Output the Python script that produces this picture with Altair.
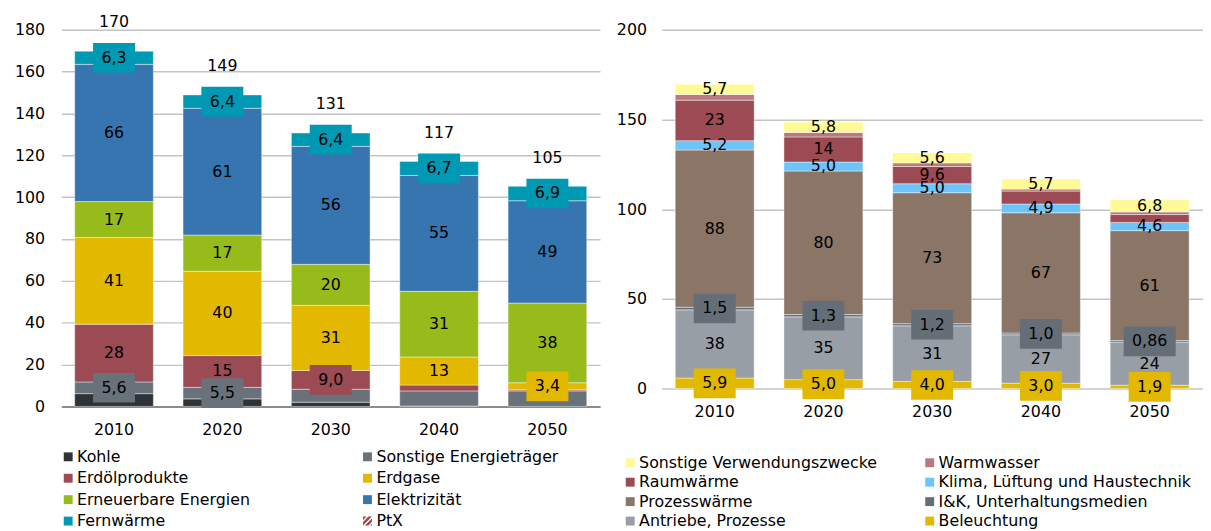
import altair as alt
import pandas as pd

FONT = "DejaVu Sans"
YEARS = ["2010", "2020", "2030", "2040", "2050"]

# ---------------- left panel: by energy carrier (bottom -> top) ----------------
LEFT_SERIES = ["Kohle", "Sonstige Energieträger", "Erdölprodukte", "Erdgase",
               "Erneuerbare Energien", "Elektrizität", "Fernwärme", "PtX"]
LEFT_COLORS = ["#2f3338", "#69717a", "#9c4a54", "#e3b800",
               "#98bb1c", "#3675b0", "#0099b4", "#9c4a54"]
KOHLE = [6.1, 3.6, 2.0, 0.2, 0.0]
SONSTIGE_ET = [5.6, 5.5, 6.2, 7.2, 7.4]
ERDOEL = [27.6, 15.2, 9.0, 2.8, 0.5]
ERDGAS = [41.4, 40.3, 31.1, 13.4, 3.4]
ERNEUERBAR = [17.2, 17.3, 19.6, 31.4, 38.1]
ELEKTRIZITAET = [65.6, 60.6, 56.4, 55.4, 48.9]
FERNWAERME = [6.3, 6.4, 6.4, 6.7, 6.9]
PTX = [0.0, 0.0, 0.0, 0.0, 0.0]
LEFT_VALUES = [KOHLE, SONSTIGE_ET, ERDOEL, ERDGAS, ERNEUERBAR,
               ELEKTRIZITAET, FERNWAERME, PTX]
# label kind per value: 0 none, 1 plain, 2 on a coloured box
LEFT_LABELS = [[0, 0, 0, 0, 0], [2, 2, 0, 0, 0], [1, 1, 2, 0, 0], [1, 1, 1, 1, 2],
               [1, 1, 1, 1, 1], [1, 1, 1, 1, 1], [2, 2, 2, 2, 2], [0, 0, 0, 0, 0]]

# ---------------- right panel: by use (bottom -> top) ----------------
RIGHT_SERIES = ["Beleuchtung", "Antriebe, Prozesse", "I&K, Unterhaltungsmedien",
                "Prozesswärme", "Klima, Lüftung und Haustechnik", "Raumwärme",
                "Warmwasser", "Sonstige Verwendungszwecke"]
RIGHT_COLORS = ["#e3b800", "#979ea6", "#656d77", "#8b7567",
                "#6cc4fa", "#9c4a54", "#b87a7e", "#fffa96"]
BELEUCHTUNG = [5.9, 5.0, 4.0, 3.0, 1.9]
ANTRIEBE = [38, 35, 31, 27, 24]
IUK = [1.5, 1.3, 1.2, 1.0, 0.86]
PROZESSWAERME = [87.6, 80, 73, 67, 61.3]
KLIMA = [5.2, 5.0, 5.0, 4.9, 4.6]
RAUMWAERME = [22.6, 14, 9.6, 7.2, 4.4]
WARMWASSER = [3.2, 2.5, 2.0, 1.1, 1.4]
SONSTIGE_VZ = [5.7, 5.8, 5.6, 5.7, 6.8]
RIGHT_VALUES = [BELEUCHTUNG, ANTRIEBE, IUK, PROZESSWAERME, KLIMA,
                RAUMWAERME, WARMWASSER, SONSTIGE_VZ]
RIGHT_LABELS = [[2, 2, 2, 2, 2], [1, 1, 1, 1, 1], [2, 2, 2, 2, 2], [1, 1, 1, 1, 1],
                [1, 1, 1, 1, 1], [1, 1, 1, 0, 0], [0, 0, 0, 0, 0], [1, 1, 1, 1, 1]]

# legend orders (row-major, two columns)
LEFT_LEGEND = LEFT_SERIES
RIGHT_LEGEND = list(reversed(RIGHT_SERIES))

HATCH = ("M-1,-1L-1,-0.2L-0.2,-1Z M-1,0.2L-1,1L1,-1L0.2,-1Z "
         "M-0.6,1L0.2,1L1,0.2L1,-0.6Z M0.6,1L1,1L1,0.6Z")


def long_df(series, values, labels):
    rows = []
    for i, (s, vals, labs) in enumerate(zip(series, values, labels)):
        for y, v, l in zip(YEARS, vals, labs):
            rows.append({"year": y, "series": s, "idx": i, "value": v, "lab": l})
    return pd.DataFrame(rows)


def panel(series, colors, values, labels, ymax, yvals, width, height,
          xrange, domain_color, ylabel_pad, totals):
    df = long_df(series, values, labels)
    cscale = alt.Scale(domain=series, range=colors)
    if xrange is not None:
        xscale = alt.Scale(domain=YEARS, paddingInner=0.274, paddingOuter=0.123, range=xrange)
    else:
        xscale = alt.Scale(domain=YEARS, paddingInner=0.274, paddingOuter=0.123)
    xaxis = alt.Axis(title=None, labelAngle=0, domain=True, domainColor=domain_color,
                     domainWidth=2, ticks=False, labelPadding=15, labelFont=FONT,
                     labelFontSize=16, labelColor="black", grid=False)
    yscale = alt.Scale(domain=[0, ymax], nice=False, zero=True)
    yaxis = alt.Axis(title=None, values=yvals, grid=True, gridColor="#c3c3c3",
                     gridWidth=1.5, domain=False, ticks=False, labelPadding=ylabel_pad,
                     labelFont=FONT, labelFontSize=16, labelColor="black")
    X = alt.X("year:N", scale=xscale, axis=xaxis, sort=YEARS)

    base = alt.Chart(df).transform_stack(
        stack="value", groupby=["year"], as_=["y0", "y1"],
        sort=[alt.SortField(field="idx", order="ascending")]
    ).transform_calculate(
        mid="(datum.y0 + datum.y1) / 2",
        txt="replace(format(datum.value, '.2r'), '.', ',')",
    ).transform_calculate(
        ncomma="indexof(datum.txt, ',') >= 0 ? 1 : 0",
    ).transform_calculate(
        hw="(16 * (0.636 * (length(datum.txt) - datum.ncomma) + 0.318 * datum.ncomma) + 17) / 30",
    ).transform_calculate(
        shape="'M' + (-datum.hw) + ',-1L' + datum.hw + ',-1L' + datum.hw + ',1L' + (-datum.hw) + ',1Z'"
    )

    bars = base.transform_filter("datum.value > 0").mark_bar(
        stroke="white", strokeWidth=0.6, strokeOpacity=0.7
    ).encode(
        x=X,
        y=alt.Y("y0:Q", scale=yscale, axis=yaxis),
        y2="y1:Q",
        color=alt.Color("series:N", scale=cscale, legend=None),
    )
    boxes = base.transform_filter("datum.lab == 2").mark_point(
        filled=True, opacity=1, size=900, strokeWidth=0
    ).encode(
        x=X,
        y=alt.Y("mid:Q", scale=yscale, axis=yaxis),
        color=alt.Color("series:N", scale=cscale, legend=None),
        shape=alt.Shape("shape:N", scale=None),
    )
    texts = base.transform_filter("datum.lab > 0").mark_text(
        font=FONT, fontSize=16, color="black"
    ).encode(
        x=X,
        y=alt.Y("mid:Q", scale=yscale, axis=yaxis),
        text="txt:N",
    )
    layers = [bars, boxes, texts]
    if totals:
        tot = alt.Chart(df).transform_aggregate(
            total="sum(value)", groupby=["year"]
        ).transform_calculate(
            t="format(datum.total, '.0f')"
        ).mark_text(font=FONT, fontSize=16, color="black", dy=-29).encode(
            x=X,
            y=alt.Y("total:Q", scale=yscale, axis=yaxis),
            text="t:N",
        )
        layers.append(tot)
    return alt.layer(*layers).properties(width=width, height=height)


def legend(series, colors, xcols, yrows, width, height):
    ldf = pd.DataFrame({"series": series, "i": list(range(len(series)))})
    cscale = alt.Scale(domain=series, range=colors)
    base = alt.Chart(ldf).transform_calculate(
        col="datum.i % 2",
        row="floor(datum.i / 2)",
        shape="datum.series == 'PtX' ? '%s' : 'square'" % HATCH,
    )
    X = alt.X("col:Q", scale=alt.Scale(domain=[0, 1], range=xcols, zero=False, nice=False), axis=None)
    Y = alt.Y("row:Q", scale=alt.Scale(domain=[0, 3], range=yrows, zero=False, nice=False), axis=None)
    sym = base.mark_point(filled=True, opacity=1, size=81, strokeWidth=0).encode(
        x=X, y=Y,
        color=alt.Color("series:N", scale=cscale, legend=None),
        shape=alt.Shape("shape:N", scale=None),
    )
    txt = base.mark_text(align="left", dx=9, font=FONT, fontSize=16, color="black").encode(
        x=X, y=Y, text="series:N"
    )
    return alt.layer(sym, txt).properties(width=width, height=height)


left = panel(LEFT_SERIES, LEFT_COLORS, LEFT_VALUES, LEFT_LABELS, 180,
             list(range(0, 181, 20)), 545, 381, None, "#8c8c8c", 17, True)
right = panel(RIGHT_SERIES, RIGHT_COLORS, RIGHT_VALUES, RIGHT_LABELS, 200,
              [0, 50, 100, 150, 200], 535, 363, [0, 547], "#d4d4d4", 15.5, False)

left_leg = legend(LEFT_LEGEND, LEFT_COLORS, [6.9, 309.7], [51.0, 116.0], 545, 100)
right_colors_leg = [RIGHT_COLORS[RIGHT_SERIES.index(s)] for s in RIGHT_LEGEND]
right_leg = legend(RIGHT_LEGEND, right_colors_leg, [-32.0, 271.0], [57.0, 116.0], 535, 100)

chart = alt.concat(
    left, right, left_leg, right_leg,
    columns=2, align="each", bounds="flush",
    spacing={"row": 0, "column": 62.5},
).resolve_scale(
    color="independent", shape="independent", x="independent", y="independent"
).properties(
    padding={"left": 6, "top": 3, "right": 0, "bottom": 0}
).configure(font=FONT).configure_view(stroke=None)

chart.save("out.html", embed_options={"renderer": "svg", "actions": False})
